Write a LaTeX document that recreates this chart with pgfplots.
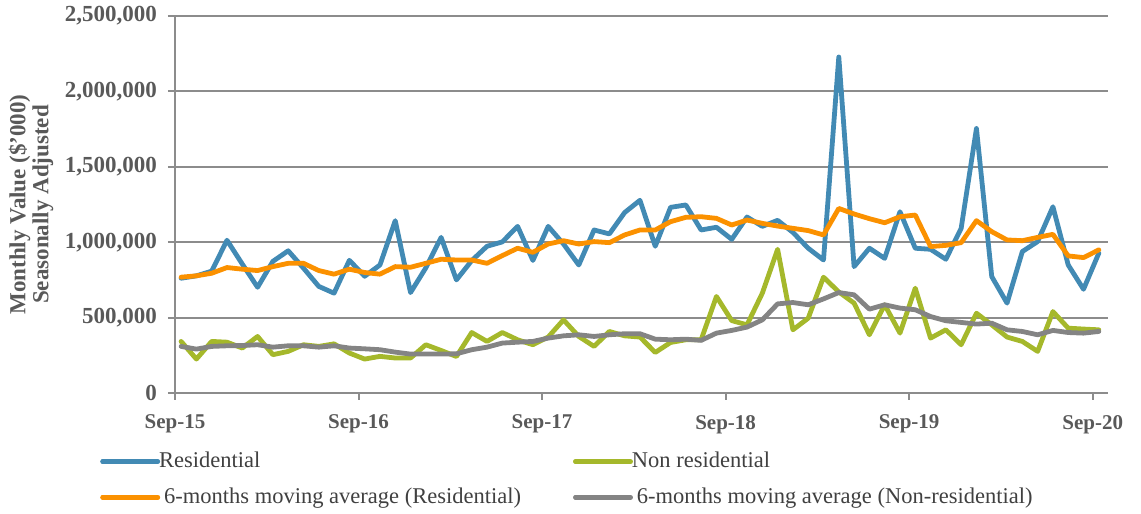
\documentclass[border=0pt]{standalone}
\usepackage{pgfplots}
\pgfplotsset{compat=1.18}
\usepackage{pgfplotstable}
\usepackage{fontspec}
\setmainfont{Liberation Serif}
\definecolor{cRes}{HTML}{428AB4}
\definecolor{cNon}{HTML}{A5B82B}
\definecolor{cMAR}{HTML}{FB9100}
\definecolor{cMAN}{HTML}{848484}
\definecolor{axisgray}{HTML}{8C8C8C}
\definecolor{labelgray}{HTML}{595959}
\definecolor{legendgray}{HTML}{404040}

% values in thousands of dollars; m = month index from Sep-15
\pgfplotstableread{
m R N O G
0 761 342 768 309
1 777 225 777 291
2 808 342 794 309
3 1013 337 832 313
4 855 298 821 315
5 701 375 812 320
6 873 254 838 304
7 943 276 860 313
8 828 320 860 313
9 707 309 812 304
10 662 326 788 313
11 880 265 821 298
12 774 225 799 293
13 849 243 788 287
14 1143 232 838 271
15 666 232 834 258
16 830 320 860 258
17 1032 282 887 258
18 750 242 882 260
19 878 401 882 287
20 973 342 860 304
21 1002 401 911 331
22 1105 353 960 337
23 879 320 933 342
24 1105 371 988 364
25 988 485 1010 379
26 849 375 988 386
27 1081 309 1004 375
28 1055 408 997 386
29 1197 379 1048 393
30 1278 371 1081 393
31 973 269 1081 357
32 1231 335 1136 353
33 1247 353 1165 357
34 1081 353 1169 349
35 1099 640 1158 397
36 1019 480 1114 415
37 1167 452 1147 437
38 1105 662 1125 485
39 1145 953 1107 591
40 1065 419 1092 600
41 960 496 1077 585
42 882 768 1048 624
43 2228 670 1224 666
44 838 596 1187 651
45 960 386 1156 556
46 893 585 1129 585
47 1202 397 1169 563
48 960 695 1180 552
49 953 364 971 507
50 887 419 979 479
51 1092 320 997 468
52 1754 529 1143 457
53 772 452 1070 463
54 596 371 1015 419
55 938 342 1010 408
56 1004 276 1032 386
57 1235 540 1052 415
58 849 430 909 401
59 688 424 898 397
60 927 419 949 408
}\datatable

\begin{document}
\begin{tikzpicture}
\useasboundingbox (0,0) rectangle (570.5pt,257pt);
\begin{axis}[
  at={(87.5pt,60.5pt)}, anchor=south west,
  scale only axis, width=466.5pt, height=188.5pt,
  xmin=0, xmax=61, ymin=0, ymax=2500,
  axis x line*=bottom, axis y line*=left,
  axis line style={draw=axisgray, line width=1pt},
  xtick={0,12,24,36,48,60},
  xticklabels={Sep-15,Sep-16,Sep-17,Sep-18,Sep-19,Sep-20},
  ytick={0,500,1000,1500,2000,2500},
  yticklabels={0,{500,000},{1,000,000},{1,500,000},{2,000,000},{2,500,000}},
  tick align=outside, major tick length=3.5pt,
  tick style={draw=axisgray, line width=1pt},
  ymajorgrids, grid style={draw=axisgray, line width=1pt},
  /pgf/number format/assume math mode=true,
  xticklabel style={font=\bfseries\fontsize{10.5}{12}\selectfont, text=labelgray, yshift=-4pt},
  yticklabel style={font=\bfseries\fontsize{11.5}{13}\selectfont, text=labelgray, xshift=-2pt},
  ylabel={Monthly Value (\$'000)\\Seasonally Adjusted},
  ylabel style={align=center, font=\bfseries\fontsize{11.5}{10}\selectfont, text=labelgray,
    at={(axis description cs:-0.1544,0.5)}, anchor=center},
  every axis plot/.append style={line width=2.4pt, line join=round, line cap=round, no markers},
  legend columns=2,
  legend cell align=left,
  legend style={draw=none, fill=none, at={(-0.0804,-0.1456)}, anchor=north west,
    font=\fontsize{11.25}{13}\selectfont, text=legendgray, row sep=4.5pt, inner sep=0pt},
  legend image code/.code={\path (0pt,0pt) -- (25pt,0pt);\draw[#1,overlay] (0pt,0pt) -- (27.5pt,0pt);},
]
\addplot[color=cRes] table[x expr=\thisrow{m}+0.4, y=R] {\datatable};
\addlegendentry{\makebox[205pt][l]{Residential}}
\addplot[color=cNon] table[x expr=\thisrow{m}+0.4, y=N] {\datatable};
\addlegendentry{Non residential}
\addplot[color=cMAR] table[x expr=\thisrow{m}+0.4, y=O] {\datatable};
\addlegendentry{\makebox[205pt][l]{\hspace{2.5pt}6-months moving average (Residential)}}
\addplot[color=cMAN] table[x expr=\thisrow{m}+0.4, y=G] {\datatable};
\addlegendentry{\hspace{2.5pt}6-months moving average (Non-residential)}
\end{axis}
\end{tikzpicture}
\end{document}
